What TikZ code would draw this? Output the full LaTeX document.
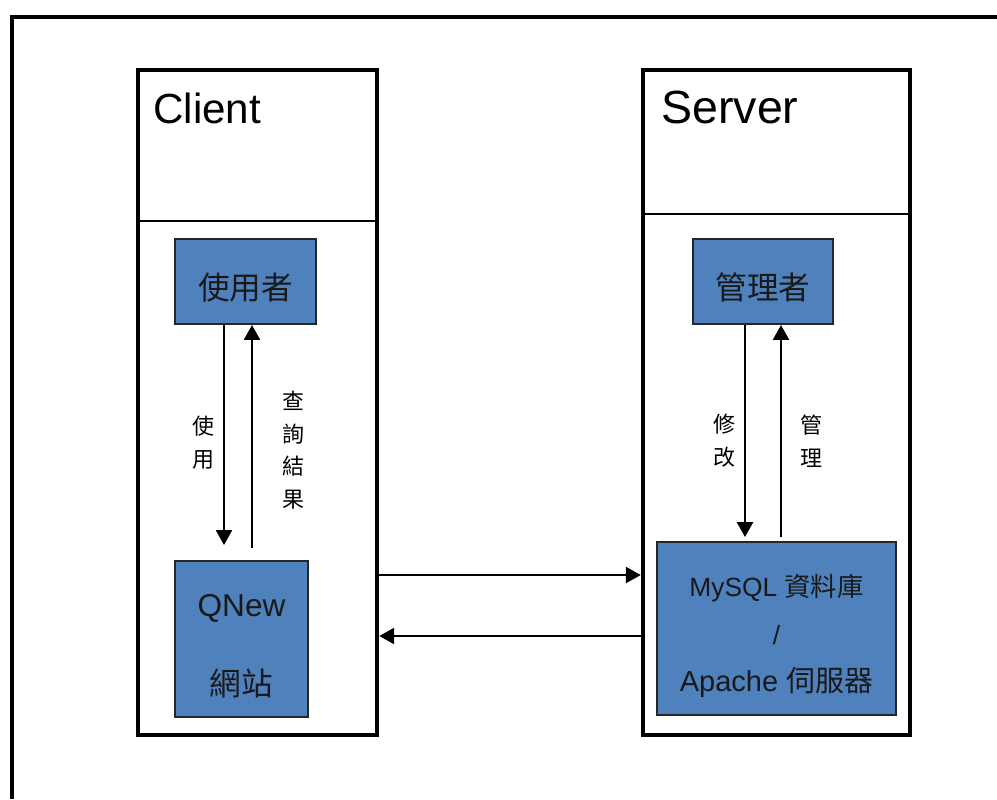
\documentclass[tikz,border=0pt]{standalone}
\usepackage{fontspec}
\setmainfont{Liberation Sans}
\newfontfamily\cjk{Noto Sans CJK TC}
\usetikzlibrary{arrows.meta}
\definecolor{boxblue}{HTML}{4F81BD}
\tikzset{
  tier/.style={draw, line width=0.09cm, minimum height=13.3cm, inner sep=0},
  actor/.style={draw=black!85, fill=boxblue, line width=0.04cm, inner sep=0, text=black!90},
  flow/.style={line width=0.05cm, -{Triangle[length=0.3cm,width=0.32cm]}},
  vlabel/.style={font=\cjk\fontsize{12.5}{18.6}\selectfont, align=center, inner sep=0},
  title/.style={anchor=base west, inner sep=0},
}

\begin{document}
\begin{tikzpicture}[x=0.02cm, y=-0.02cm]
		%%%%% START %%%%%
		\useasboundingbox (0,0) rectangle (997,799);
		
		\draw[line width=0.08cm] (12,799) -- (12,17) -- (997,17);
		
		% client / server
		\node[tier, minimum width=4.78cm] (client) at (257.5,402.5) {};
		\node[tier, minimum width=5.34cm] (server) at (776.5,402.5) {};
		\draw[line width=0.03cm] (138,221) -- (377,221);
		\draw[line width=0.03cm] (643,214) -- (910,214);
		\node[title, font=\fontsize{24}{29}\selectfont] (clientname) at (153,123) {Client};
		\node[title, font=\fontsize{26.5}{31}\selectfont] (servername) at (661,123) {Server};
		
		\node[actor, minimum width=2.82cm, minimum height=1.7cm, text height=0.72cm, text depth=0cm, font=\cjk\fontsize{18}{22}\selectfont] (user) at (245.5,281.5) {使用者};
		\node[actor, minimum width=2.8cm, minimum height=1.7cm, text height=0.72cm, text depth=0cm, font=\cjk\fontsize{18}{22}\selectfont] (admin) at (763,281.5) {管理者};
		
		\node[actor, minimum width=2.66cm, minimum height=3.12cm] (site) at (241.5,639) {};
		\node[inner sep=0, text=black!90, font=\fontsize{18}{22}\selectfont] (sitename) at (241.5,608) {QNew};
		\node[inner sep=0, text=black!90, font=\cjk\fontsize{18}{22}\selectfont] (sitecn) at (241.5,683) {網站};
		
		\node[actor, minimum width=4.78cm, minimum height=3.46cm] (db) at (776.5,628.5) {};
		\node[inner sep=0, text=black!90, font=\fontsize{15}{18}\selectfont] (dbname) at (776.5,588) {MySQL {\cjk 資料庫}};
		\node[inner sep=0, text=black!90, font=\fontsize{15}{18}\selectfont] (dbslash) at (776.5,635) {/};
		\node[inner sep=0, text=black!90, font=\fontsize{16.5}{20}\selectfont] (webname) at (776.5,682) {Apache {\cjk 伺服器}};
		
		% inside client
		\coordinate (usetip) at (224,545);
		\coordinate (resfoot) at (252,548);
		\draw[flow] (user.south -| usetip) -- (usetip);
		\draw[flow] (resfoot) -- (user.south -| resfoot);
		\node[vlabel] (uselbl) at (203,443) {使\\用};
		\node[vlabel] (reslbl) at (293,450) {查\\詢\\結\\果};
		
		% inside server
		\coordinate (edittip) at (745,537);
		\coordinate (mgmtfoot) at (781,537);
		\draw[flow] (admin.south -| edittip) -- (edittip);
		\draw[flow] (mgmtfoot) -- (admin.south -| mgmtfoot);
		\node[vlabel] (editlbl) at (724,441) {修\\改};
		\node[vlabel] (mgmtlbl) at (811,441) {管\\理};
		
		% between
		\draw[flow] (client.east |- 0,575) -- (server.west |- 0,575);
		\draw[flow] (server.west |- 0,636) -- (client.east |- 0,636);
		
		%%%%% END %%%%%
	\end{tikzpicture}
\end{document}
